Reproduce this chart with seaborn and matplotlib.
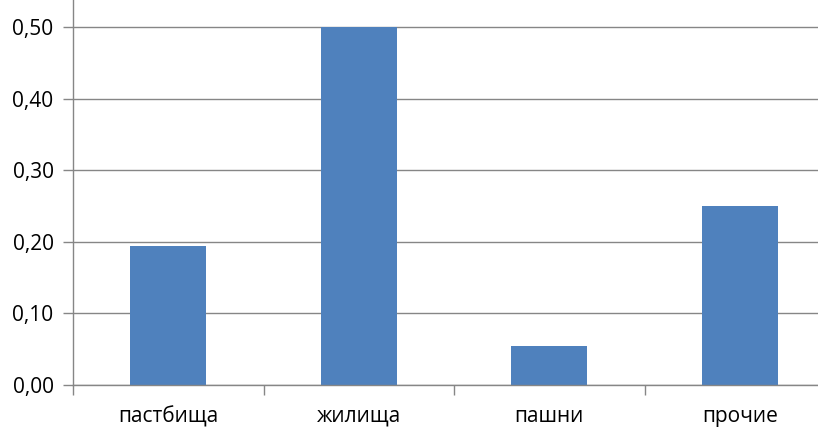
import numpy as np
import pandas as pd
import matplotlib.pyplot as plt
import seaborn as sns
from matplotlib.ticker import FuncFormatter, FixedLocator

# данные с диаграммы
categories = ['пастбища', 'жилища', 'пашни', 'прочие']
values = [0.194, 0.50, 0.055, 0.25]

df = pd.DataFrame({'cat': categories, 'val': values})

sns.set_style('white')
plt.rcParams['font.family'] = ['Open Sans', 'DejaVu Sans']

fig = plt.figure(figsize=(8.18, 4.38), dpi=100)
ax = fig.add_axes([73 / 818, 53 / 438, 745 / 818, 385 / 438])

sns.barplot(data=df, x='cat', y='val', color='#4F81BD', width=0.4,
            saturation=1, linewidth=0, ax=ax)

grid = '#868686'
ax.set_ylim(0, 0.5377)
ax.set_xlim(-0.5, 3.41)
ax.set_yticks(np.arange(0, 0.51, 0.1))
ax.yaxis.set_major_formatter(FuncFormatter(lambda v, p: f'{v:.2f}'.replace('.', ',')))
ax.grid(axis='y', color=grid, linewidth=1)
ax.set_axisbelow(True)

for s in ['top', 'right']:
    ax.spines[s].set_visible(False)
for s in ['left', 'bottom']:
    ax.spines[s].set_color(grid)
    ax.spines[s].set_linewidth(1)

ax.xaxis.set_minor_locator(FixedLocator([-0.5, 0.5, 1.5, 2.5, 3.5]))
ax.tick_params(axis='x', which='major', bottom=False, length=0, pad=15,
               labelsize=15, labelcolor='black')
ax.tick_params(axis='x', which='minor', bottom=True, length=7, width=1,
               color=grid, direction='out')
ax.tick_params(axis='y', left=True, length=7, width=1, color=grid, direction='out',
               labelsize=15, labelcolor='black', pad=7)
ax.set_xlabel('')
ax.set_ylabel('')

fig.savefig('out.png', dpi=100)
